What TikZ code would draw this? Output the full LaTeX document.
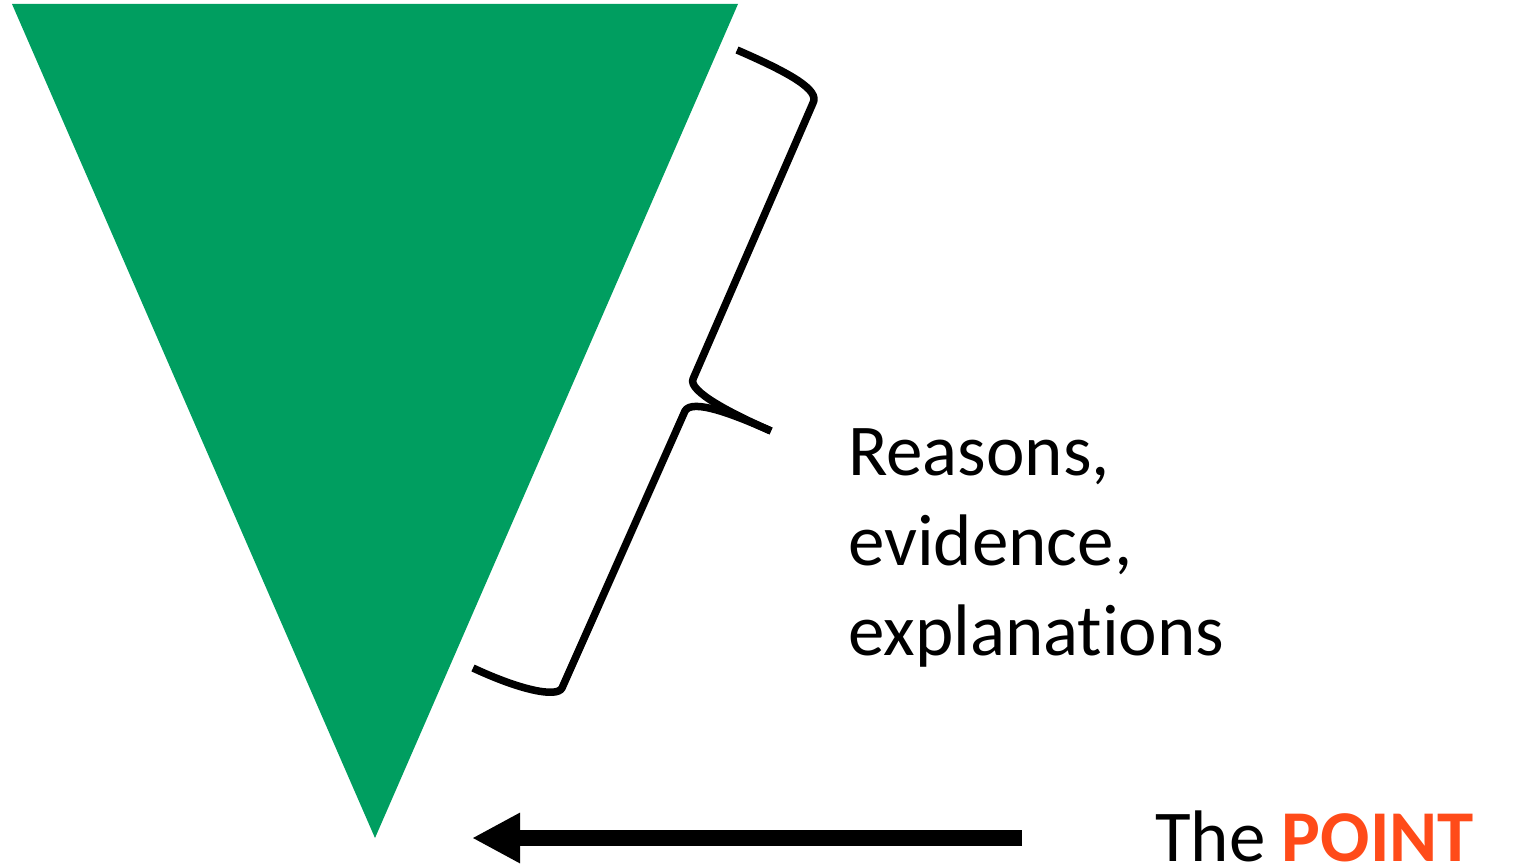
\documentclass[tikz,border=0pt]{standalone}
\usepackage{fontspec}
\setmainfont{Carlito}[Ligatures={NoCommon,NoRare,NoDiscretionary}]
\usetikzlibrary{arrows.meta}
\definecolor{trigreen}{RGB}{0,158,96}
\definecolor{pointorange}{RGB}{255,75,25}
\begin{document}
\begin{tikzpicture}[x=1pt,y=-1pt,
  brace/.style={line width=7.5pt,line cap=butt,line join=round,black},
  bigtext/.style={anchor=base west,inner sep=0pt,font=\fontsize{73}{88}\selectfont},
  pointer/.style={line width=16pt,-{Triangle[length=48pt,width=47pt]}}]
\useasboundingbox (0,0) rectangle (1514,867);
% funnel triangle
\coordinate (tl) at (12,4);
\coordinate (tr) at (738,4);
\coordinate (tip) at (375,838);
\fill[trigreen] (tl) -- (tr) -- (tip) -- cycle;
% brace
\coordinate (b1) at (737,50);
\coordinate (b2) at (813,103);
\coordinate (b3) at (693,379);
\coordinate (bm) at (771,431);
\coordinate (b4) at (685,411);
\coordinate (b5) at (562,688);
\coordinate (b6) at (473,668);
\draw[brace] (b1) .. controls (790,73) and (820,90) .. (b2) -- (b3)
  .. controls (688,391) and (730,413) .. (bm);
\draw[brace] (bm) .. controls (735,415) and (692,398) .. (b4) -- (b5)
  .. controls (557,698) and (520,690) .. (b6);
% texts
\node[bigtext] (r1) at (848,475) {Reasons,};
\node[bigtext] (r2) at (848,565) {evidence,};
\node[bigtext] (r3) at (848,655) {explanations};
\node[bigtext] (pt) at (1155,861) {The \textcolor{pointorange}{\bfseries POINT}};
% arrow
\coordinate (as) at (1022,838);
\coordinate (ae) at (472,838);
\draw[pointer] (as) -- (ae);
\end{tikzpicture}
\end{document}
